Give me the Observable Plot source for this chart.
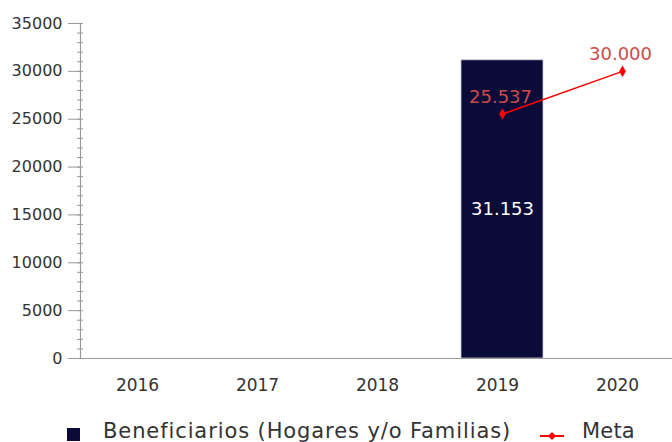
<!DOCTYPE html>
<html>
<head>
<meta charset="utf-8">
<script src="https://cdn.jsdelivr.net/npm/d3@7"></script>
<script src="https://cdn.jsdelivr.net/npm/@observablehq/plot@0.6"></script>
<style>
  body { margin: 0; background: #fff; font-family: "DejaVu Sans", sans-serif; }
  #wrap { position: relative; width: 672px; height: 442px; overflow: hidden; }
  #legend { position: absolute; left: 0; top: 421px; width: 672px; height: 21px; font-size: 21px; line-height: 21px; color: #333; white-space: nowrap; letter-spacing: 0.9px; }
  .sw { position: absolute; top: 7px; left: 67px; width: 13px; height: 13px; background: #0b0b3a; }
  .l1 { position: absolute; left: 103px; top: 0; }
  .mk { position: absolute; left: 538px; top: 7px; }
  .l2 { position: absolute; left: 582px; top: 0; letter-spacing: 0.2px; }
</style>
</head>
<body>
<div id="wrap">
  <div id="chart"></div>
  <div id="legend">
    <span class="sw"></span><span class="l1">Beneficiarios (Hogares y/o Familias)</span>
    <svg class="mk" width="28" height="16"><line x1="2" y1="8" x2="26" y2="8" stroke="#ff0000" stroke-width="2"/><path d="M14 4 L18 8 L14 12 L10 8 Z" fill="#ff0000"/></svg>
    <span class="l2">Meta</span>
  </div>
</div>
<script>
const years = ["2016", "2017", "2018", "2019", "2020"];
const beneficiarios = [null, null, null, 31153, null];
const metaYears = ["2019", "2020"];
const metaValues = [25537, 30000];
const yMajorTicks = [0, 5000, 10000, 15000, 20000, 25000, 30000, 35000];
const yMinorTicks = d3.range(0, 35001, 1000);

const fmt = d3.formatLocale({decimal: ",", thousands: ".", grouping: [3], currency: ["", ""]}).format(",");

const barData = years.map((y, i) => ({year: y, value: beneficiarios[i]})).filter(d => d.value != null);
const metaData = metaYears.map((y, i) => ({year: y, value: metaValues[i]}));

const chart = Plot.plot({
  width: 672,
  height: 405,
  marginLeft: 80,
  marginRight: 0,
  marginTop: 23,
  marginBottom: 47,
  style: {fontFamily: "DejaVu Sans, sans-serif", background: "#fff"},
  x: {domain: years, range: [82, 682], paddingInner: 0.317, paddingOuter: 0.1585, label: null},
  y: {domain: [0, 35000], label: null},
  marks: [
    Plot.barY(barData, {x: "year", y: "value", fill: "#0b0b3a", stroke: "#c8c8d8", strokeWidth: 0.8}),
    Plot.text(barData, {x: "year", y: d => d.value / 2, text: d => fmt(d.value), fill: "#fff", fontSize: 18, style: {letterSpacing: "0.6px"}}),
    Plot.line(metaData, {x: "year", y: "value", stroke: "#ff0000", strokeWidth: 1.5}),
    Plot.dot(metaData, {x: "year", y: "value", symbol: "diamond", r: 3.5, fill: "#ff0000"}),
    Plot.text(metaData, {x: "year", y: "value", text: d => fmt(d.value), fill: "#cc4b4b", fontSize: 18, dy: -17, dx: -2}),
    Plot.axisY({ticks: yMinorTicks, tickSize: 6, dx: 3, text: null, stroke: "#999"}),
    Plot.axisY({ticks: yMajorTicks, tickSize: 12, tickPadding: 6, tickFormat: d => String(d), fontSize: 16, fill: "#333", stroke: "#999"}),
    Plot.axisX({tickSize: 0, tickPadding: 20, fontSize: 17, dx: -5, fill: "#333"}),
    Plot.ruleY([0], {stroke: "#999", strokeWidth: 1.2}),
    Plot.frame({anchor: "left", stroke: "#999", strokeWidth: 1.2})
  ]
});
document.getElementById("chart").appendChild(chart);
</script>
</body>
</html>
